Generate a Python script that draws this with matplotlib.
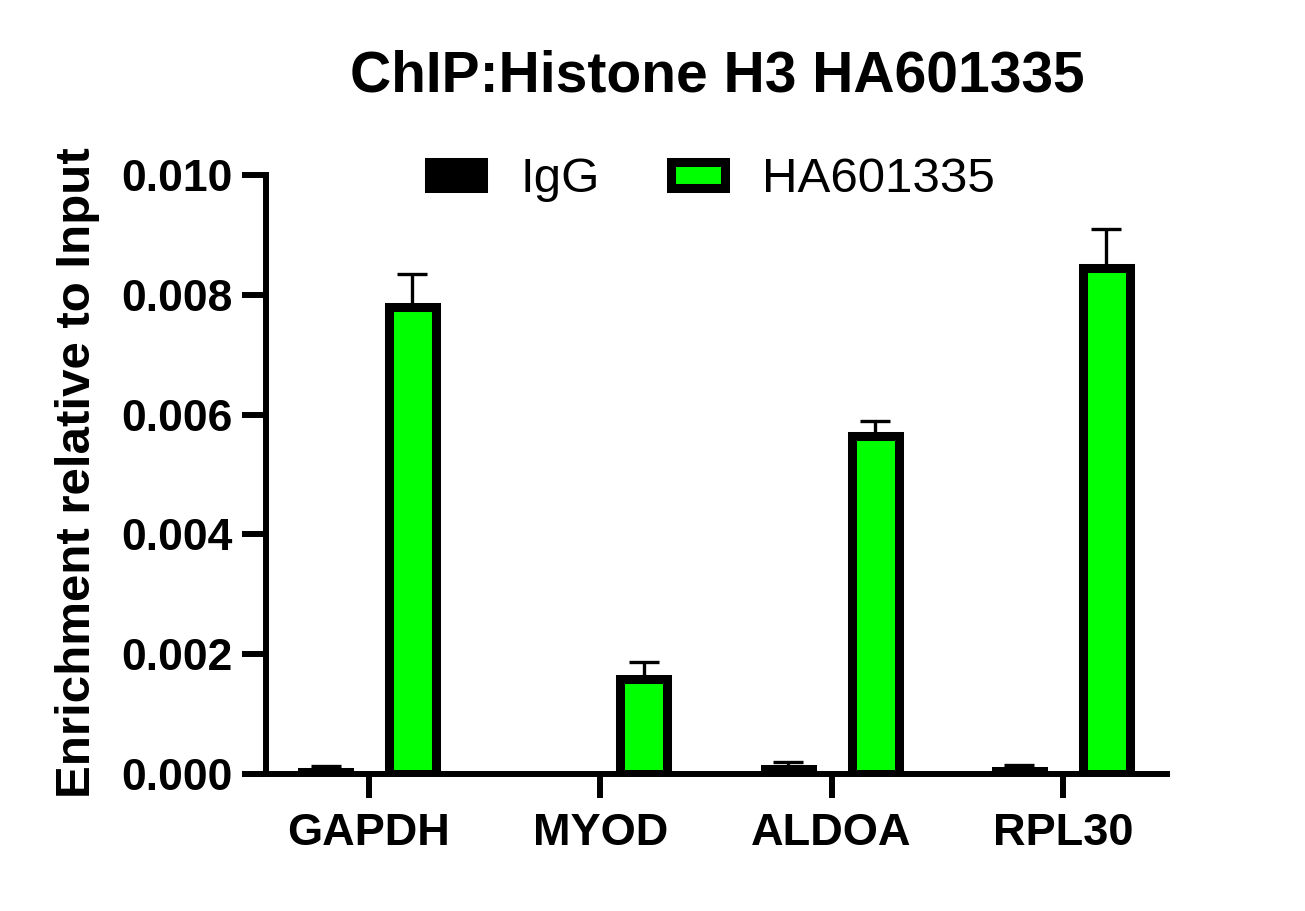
import matplotlib
matplotlib.use("Agg")
import matplotlib.pyplot as plt
import numpy as np

categories = ["GAPDH", "MYOD", "ALDOA", "RPL30"]
igg_values = [0.00003, 0.0, 0.00008, 0.00005]
igg_err = [0.00010, 0.0, 0.00012, 0.00010]
ha_values = [0.00780, 0.00159, 0.00565, 0.00844]
ha_err = [0.00055, 0.00028, 0.00025, 0.00066]
series_names = ["IgG", "HA601335"]
title = "ChIP:Histone H3 HA601335"
ylabel = "Enrichment relative to Input"
yticks = [0.000, 0.002, 0.004, 0.006, 0.008, 0.010]

plt.rcParams['font.family'] = ['Liberation Sans', 'DejaVu Sans']

W, H = 1305, 911
fig = plt.figure(figsize=(W / 100, H / 100), dpi=100)
ax = fig.add_axes([242 / W, 1 - 774 / H, (1170 - 242) / W, (774 - 175) / H])

x = np.arange(len(categories))
off = 0.188
bw = 0.203
edge_lw = 6.5
green = "#00FF00"

b1 = ax.bar(x - off, igg_values, bw, color="black", edgecolor="black",
            linewidth=edge_lw, label=series_names[0], zorder=3)
b2 = ax.bar(x + off, ha_values, bw, color=green, edgecolor="black",
            linewidth=edge_lw, label=series_names[1], zorder=3)
for rect, v in zip(b1.patches, igg_values):
    if v == 0:
        rect.set_visible(False)

for xs, vals, errs in [(x - off, igg_values, igg_err), (x + off, ha_values, ha_err)]:
    xs_nz = [xx for xx, e in zip(xs, errs) if e > 0]
    v_nz = [vv for vv, e in zip(vals, errs) if e > 0]
    e_nz = [e for e in errs if e > 0]
    ax.errorbar(xs_nz, v_nz, yerr=[np.zeros(len(e_nz)), e_nz], fmt="none",
                ecolor="black", elinewidth=2.4, capsize=10.5, capthick=2.4, zorder=2)

ax.set_xlim(-0.549, 3.463)
ax.set_ylim(0, 0.010)
ax.set_yticks(yticks)
ax.set_yticklabels([f"{v:.3f}" for v in yticks])
ax.set_xticks(x)
ax.set_xticklabels(categories)

for s in ["top", "right"]:
    ax.spines[s].set_visible(False)
ax.spines["left"].set_position(("data", -0.445))
ax.spines["left"].set_bounds(0, 0.010)
ax.spines["left"].set_linewidth(4.3)
ax.spines["bottom"].set_linewidth(4.3)
ax.spines["left"].set_capstyle("projecting")
ax.spines["bottom"].set_capstyle("butt")

ax.tick_params(axis="y", length=17, width=4.3, pad=7, labelsize=32)
ax.tick_params(axis="x", length=17, width=4.3, pad=11, labelsize=32.5)
for lab in ax.get_xticklabels() + ax.get_yticklabels():
    lab.set_fontweight("bold")

fig.text(78 / W, 1 - 473 / H, ylabel, rotation=90, ha="center", va="center",
         fontsize=35.5, fontweight="bold")
fig.text(717.5 / W, 1 - 77 / H, title, ha="center", va="center",
         fontsize=41, fontweight="bold")

leg = fig.legend(handles=[b1, b2], labels=series_names, loc="center",
                 bbox_to_anchor=(712 / W, 1 - 180 / H), ncol=2, frameon=False,
                 fontsize=35.5, handlelength=1.1, handleheight=0.43,
                 handletextpad=0.75, columnspacing=1.45)

fig.savefig("out.png", dpi=100)
